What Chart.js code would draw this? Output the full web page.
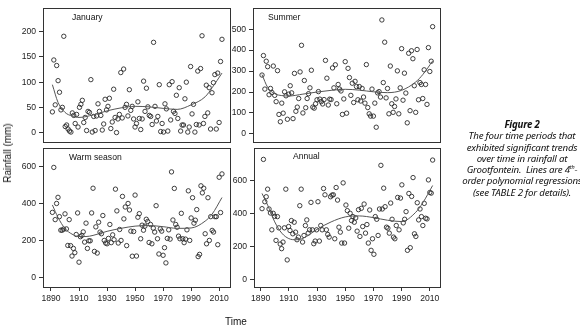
<!DOCTYPE html>
<html>
<head>
<meta charset="utf-8">
<script src="https://cdn.jsdelivr.net/npm/chart.js@4.4.1/dist/chart.umd.min.js"></script>
<style>
  html, body { margin: 0; padding: 0; background: #fff; }
  #wrap { position: relative; width: 580px; height: 329px; overflow: hidden; font-family: "Liberation Sans", Arial, sans-serif; color: #111; }
  canvas { position: absolute; }
  .lbl { position: absolute; white-space: nowrap; line-height: 1; }
  .ttl { font-size: 8.6px; }
  #cap { position: absolute; left: 442px; top: 119px; width: 160px; text-align: center;
         font-family: "Noto Sans", "Open Sans", sans-serif; font-style: italic; font-size: 9.7px;
         line-height: 11.3px; color: #111; letter-spacing: -0.2px; white-space: nowrap; }
  #cap b { font-weight: 700; }
  #cap sup { font-size: 5.5px; vertical-align: 4px; line-height: 0; }
</style>
</head>
<body>
<div id="wrap">
  <canvas id="jan" width="235" height="150" style="left:0;top:0"></canvas>
  <canvas id="sum" width="230" height="150" style="left:215px;top:0"></canvas>
  <canvas id="warm" width="235" height="170" style="left:0;top:140px"></canvas>
  <canvas id="ann" width="230" height="170" style="left:215px;top:140px"></canvas>

  <div class="lbl ttl" style="left:72px;top:13px">January</div>
  <div class="lbl ttl" style="left:268px;top:13px">Summer</div>
  <div class="lbl ttl" style="left:69px;top:153px">Warm season</div>
  <div class="lbl ttl" style="left:293px;top:152px">Annual</div>
  <div class="lbl" style="left:8px;top:153px;font-size:10px;transform:translate(-50%,-50%) rotate(-90deg)">Rainfall (mm)</div>
  <div class="lbl" style="left:236px;top:322px;font-size:10px;transform:translate(-50%,-50%)">Time</div>

  <div id="cap">
    <b>Figure 2</b><br>
    The four time periods that<br>
    exhibited significant trends<br>
    over time in rainfall at<br>
    Grootfontein.&nbsp; Lines are 4<sup>th</sup>-<br>
    order polynomial regressions<br>
    (see TABLE 2 for details).
  </div>
</div>

<script>
// years covered by every series (one value per year, spread over this span)
var yearSpan = [1891, 2012];
var xTickYears = [1890, 1910, 1930, 1950, 1970, 1990, 2010];

// January rainfall (mm)
var janRain = [41,144,55,133,103,80,45,50,191,12,
  15,7,3,1,39,34,18,36,11,50,
  56,64,20,30,4,42,40,105,1,32,
  4,33,57,42,34,5,17,66,45,52,
  68,8,21,86,30,0,27,36,119,29,
  126,50,56,33,85,44,52,27,11,18,
  61,28,6,27,102,42,88,51,34,32,
  16,179,52,23,32,95,2,18,1,57,
  47,3,95,25,101,42,38,74,28,89,
  3,15,15,67,100,1,11,131,37,56,
  1,16,122,15,127,192,18,32,94,39,
  89,7,79,99,115,7,118,20,141,185];
var janFitYears = [1891,1895,1900,1905,1910,1920,1930,1940,1950,1960,1970,1980,1990,2000,2005,2012];
var janFit = [95,60,40,33,30,35,43,49,52,51,48,46,55,71,89,118];

// Summer rainfall (mm)
var sumRain = [281,374,214,347,321,187,217,198,324,184,
  154,302,93,58,147,99,201,182,70,190,
  230,196,73,289,108,128,169,296,423,100,
  255,125,169,192,220,304,128,123,144,163,
  202,166,154,143,164,351,266,138,166,164,
  315,220,330,144,236,214,205,93,167,345,
  99,313,269,184,242,150,251,226,163,226,
  157,217,176,147,331,126,96,85,214,85,
  147,32,196,202,176,544,245,438,172,217,
  96,324,144,103,131,167,301,96,220,407,
  161,290,195,53,385,111,397,359,230,103,
  403,163,245,236,169,306,236,141,412,298,
  347,512];
var sumFitYears = [1891,1895,1900,1905,1910,1920,1930,1940,1950,1960,1970,1980,1990,2000,2005,2012];
var sumFit = [283,222,192,183,181,190,200,208,213,209,201,197,208,248,283,348];

// Warm season rainfall (mm)
var warmRain = [352,594,313,400,433,329,256,256,262,344,
  263,174,313,173,117,158,135,233,349,84,
  221,228,247,192,294,158,199,199,349,482,
  142,274,133,299,246,237,335,201,187,183,
  212,287,189,231,205,477,360,187,260,201,
  438,317,381,173,400,365,251,116,249,445,
  117,326,345,210,283,256,278,315,303,190,
  287,183,267,246,388,210,128,263,251,121,
  162,80,212,258,208,570,311,481,287,272,
  224,210,347,210,189,208,258,468,201,322,
  431,294,310,367,114,126,495,457,482,237,
  183,431,201,329,255,246,329,329,178,541,
  351,559];
var warmFitYears = [1891,1895,1900,1905,1910,1915,1920,1930,1940,1950,1960,1970,1980,1990,2000,2005,2012];
var warmFit = [392,325,265,235,222,222,228,250,266,278,281,275,266,268,305,343,432];

// Annual rainfall (mm)
var annRain = [430,728,472,502,548,428,404,302,402,384,
  238,382,314,216,188,228,314,548,120,322,
  298,358,278,348,288,242,258,448,548,228,
  268,328,362,282,302,468,302,218,234,302,
  472,234,328,302,552,514,302,274,258,502,
  512,514,248,558,482,318,288,222,586,222,
  452,418,312,402,358,382,348,374,294,424,
  262,432,322,458,282,334,222,422,178,248,
  154,382,366,268,428,692,428,554,442,318,
  312,282,464,366,258,248,328,498,302,494,
  574,344,366,412,178,522,194,504,618,278,
  262,466,362,428,382,328,462,372,368,604,
  528,524,724];
var annFitYears = [1891,1895,1900,1905,1910,1915,1920,1930,1940,1950,1960,1970,1980,1990,2000,2005,2012];
var annFit = [522,451,350,282,249,242,250,305,350,380,386,376,360,352,408,465,570];

var janTicks = [0, 50, 100, 150, 200];
var sumTicks = [0, 100, 200, 300, 400, 500];
var warmTicks = [0, 200, 400, 600];
var annTicks = [0, 200, 400, 600];

var axisColor = '#333';
var tickFont = { family: '"Liberation Sans", Arial, sans-serif', size: 8.6 };

// frame round each plot region
var boxPlugin = {
  id: 'box',
  afterDraw: function(chart) {
    var a = chart.chartArea, ctx = chart.ctx;
    ctx.save();
    ctx.strokeStyle = axisColor;
    ctx.lineWidth = 1;
    ctx.strokeRect(Math.round(a.left) + 0.5, Math.round(a.top) + 0.5,
                   Math.round(a.right - a.left), Math.round(a.bottom - a.top));
    ctx.restore();
  }
};

function spreadYears(values) {
  var n = values.length;
  return values.map(function(v, i) {
    return { x: yearSpan[0] + i * (yearSpan[1] - yearSpan[0]) / (n - 1), y: v };
  });
}

function plainLabel(v) { return String(v); }

function makePanel(id, rain, fitYears, fit, yTicks, p) {
  var ctx = document.getElementById(id).getContext('2d');
  return new Chart(ctx, {
    type: 'scatter',
    data: {
      datasets: [{
        data: fitYears.map(function(y, i) { return { x: y, y: fit[i] }; }),
        showLine: true,
        borderColor: '#555',
        borderWidth: 1,
        pointRadius: 0,
        cubicInterpolationMode: 'monotone',
        fill: false
      }, {
        data: spreadYears(rain),
        pointRadius: 2.2,
        pointBorderWidth: 0.9,
        pointBorderColor: '#2a2a2a',
        pointBackgroundColor: 'rgba(0,0,0,0)'
      }]
    },
    options: {
      responsive: false,
      animation: false,
      devicePixelRatio: 1,
      layout: { padding: { left: 0, right: p.right, top: p.top, bottom: 0 } },
      plugins: { legend: { display: false }, tooltip: { enabled: false } },
      scales: {
        x: {
          type: 'linear',
          min: p.xMin, max: p.xMax,
          display: p.showX,
          afterBuildTicks: function(s) { s.ticks = xTickYears.map(function(v) { return { value: v }; }); },
          afterFit: function(s) { s.height = p.xH; },
          grid: { drawOnChartArea: false, tickLength: 4, color: axisColor },
          border: { display: false },
          ticks: { font: tickFont, color: '#222', padding: 2, maxRotation: 0, autoSkip: false, callback: plainLabel }
        },
        y: {
          min: p.yMin, max: p.yMax,
          afterBuildTicks: function(s) { s.ticks = yTicks.map(function(v) { return { value: v }; }); },
          afterFit: function(s) { s.width = p.yW; },
          grid: { drawOnChartArea: false, tickLength: 4, color: axisColor },
          border: { display: false },
          ticks: { font: tickFont, color: '#222', padding: 3, callback: plainLabel }
        }
      }
    },
    plugins: [boxPlugin]
  });
}

makePanel('jan', janRain, janFitYears, janFit, janTicks,
  { showX: false, xH: 0, yW: 43, right: 4, top: 6, xMin: 1884.3, xMax: 2017.8, yMin: -18.4, yMax: 246.8 });
makePanel('sum', sumRain, sumFitYears, sumFit, sumTicks,
  { showX: false, xH: 0, yW: 38, right: 4, top: 6, xMin: 1884.6, xMax: 2017.3, yMin: -37.8, yMax: 600.3 });
makePanel('warm', warmRain, warmFitYears, warmFit, warmTicks,
  { showX: true, xH: 23, yW: 43, right: 4, top: 7, xMin: 1884.3, xMax: 2017.8, yMin: -49.7, yMax: 697.7 });
makePanel('ann', annRain, annFitYears, annFit, annTicks,
  { showX: true, xH: 23, yW: 39, right: 4, top: 7, xMin: 1885.3, xMax: 2017.3, yMin: -43.8, yMax: 796 });
</script>
</body>
</html>
